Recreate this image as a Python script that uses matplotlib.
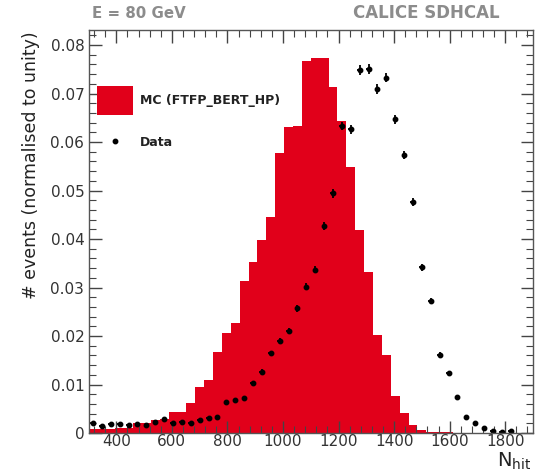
import numpy as np
import matplotlib
matplotlib.use('Agg')
from matplotlib import pyplot as plt
from matplotlib.ticker import MultipleLocator, FuncFormatter
from matplotlib.lines import Line2D
from matplotlib.patches import Patch

plt.rcParams['font.family'] = ['DejaVu Sans']

# binning of the N_hit histograms
bin_edges = np.arange(300, 1901, 32)
bin_centers = 0.5 * (bin_edges[:-1] + bin_edges[1:])

# MC (FTFP_BERT_HP), normalised to unity, one value per bin
mc_frac = [
    0.0009, 0.0008, 0.0009, 0.0010, 0.0011, 0.0020, 0.0021, 0.0027, 0.0028, 0.0043,
    0.0044, 0.0062, 0.0095, 0.0109, 0.0168, 0.0206, 0.0227, 0.0314, 0.0353, 0.0398,
    0.0446, 0.0577, 0.0630, 0.0634, 0.0768, 0.0773, 0.0774, 0.0714, 0.0644, 0.0549,
    0.0419, 0.0333, 0.0203, 0.0161, 0.0076, 0.0042, 0.0016, 0.0006, 0.0003, 0.0002,
    0.0002, 0.0001, 0.0001, 0.0, 0.0, 0.0, 0.0, 0.0, 0.0, 0.0,
]

# data points (first 48 bins)
data_frac = [
    0.0020, 0.0015, 0.0018, 0.0019, 0.0016, 0.0019, 0.0016, 0.0023, 0.0028, 0.0021,
    0.0023, 0.0021, 0.0027, 0.0031, 0.0032, 0.0063, 0.0068, 0.0072, 0.0103, 0.0126,
    0.0164, 0.0190, 0.0211, 0.0257, 0.0302, 0.0337, 0.0427, 0.0494, 0.0633, 0.0626,
    0.0748, 0.0750, 0.0709, 0.0733, 0.0647, 0.0573, 0.0477, 0.0342, 0.0272, 0.0161,
    0.0123, 0.0075, 0.0032, 0.0020, 0.0010, 0.0004, 0.0003, 0.0004,
]
data_err = [
    0.0003, 0.0003, 0.0003, 0.0003, 0.0003, 0.0003, 0.0003, 0.0003, 0.0003, 0.0003,
    0.0003, 0.0003, 0.0003, 0.0003, 0.0003, 0.0004, 0.0004, 0.0004, 0.0005, 0.0005,
    0.0006, 0.0006, 0.0006, 0.0007, 0.0007, 0.0008, 0.0008, 0.0009, 0.0009, 0.0009,
    0.0010, 0.0010, 0.0010, 0.0010, 0.0009, 0.0009, 0.0008, 0.0007, 0.0007, 0.0006,
    0.0005, 0.0004, 0.0003, 0.0002, 0.0002, 0.0001, 0.0001, 0.0001,
]

fig = plt.figure(figsize=(5.4, 4.74), dpi=100)
ax = fig.add_axes([0.1639, 0.0865, 0.8231, 0.8502])

ax.hist(bin_centers, bins=bin_edges, weights=mc_frac, histtype='stepfilled',
        color='#e1001a', linewidth=0)

n_data = len(data_frac)
ax.errorbar(bin_centers[:n_data], data_frac, yerr=data_err, xerr=9,
            fmt='o', color='k', ms=3.2, elinewidth=1.3, capsize=0)

ax.set_xlim(300, 1900)
ax.set_ylim(0, 0.0831)

ax.xaxis.set_major_locator(MultipleLocator(200))
ax.xaxis.set_minor_locator(MultipleLocator(40))
ax.yaxis.set_major_locator(MultipleLocator(0.01))
ax.yaxis.set_minor_locator(MultipleLocator(0.002))
ax.yaxis.set_major_formatter(FuncFormatter(lambda v, p: '0' if abs(v) < 1e-9 else f'{v:.2f}'))

ax.tick_params(which='both', direction='in', top=True, right=True,
               labelsize=11, labelcolor='#333333', color='#444444')
ax.tick_params(which='major', length=9, width=1)
ax.tick_params(which='minor', length=5, width=0.8)
ax.tick_params(axis='x', pad=1)
ax.tick_params(axis='y', pad=3)
for spine in ax.spines.values():
    spine.set_linewidth(1)
    spine.set_color('#555555')

ax.set_ylabel('# events (normalised to unity)', fontsize=12.5, color='#222222')
ax.yaxis.set_label_coords(-0.11, 0.665)
ax.set_xlabel(r'N$_{\mathrm{hit}}$', fontsize=14, color='#222222', ha='right')
ax.xaxis.set_label_coords(0.995, -0.043)

fig.text(0.170, 0.962, 'E = 80 GeV', fontsize=10.8, fontweight='bold', color='#8c8c8c')
fig.text(0.926, 0.962, 'CALICE SDHCAL', fontsize=12, fontweight='bold', color='#8c8c8c',
         ha='right')

# legend: MC box and data marker, as two stacked entries
leg_mc = fig.legend([Patch(facecolor='#e1001a', edgecolor='none')], ['MC (FTFP_BERT_HP)'],
                    loc='upper left', bbox_to_anchor=(97 / 540, 1 - 86 / 474),
                    frameon=False, fontsize=9, handlelength=2.9, handleheight=3.2,
                    handletextpad=0.55, borderpad=0, borderaxespad=0)
leg_data = fig.legend([Line2D([], [], marker='o', color='k', ms=3.2, linestyle='none')], ['Data'],
                      loc='center left', bbox_to_anchor=(97 / 540, 1 - 142 / 474),
                      frameon=False, fontsize=9, handlelength=2.9,
                      handletextpad=0.55, borderpad=0, borderaxespad=0)
for leg in (leg_mc, leg_data):
    for t in leg.get_texts():
        t.set_fontweight('bold')
        t.set_color('#222222')

fig.savefig('out.png', dpi=100)
